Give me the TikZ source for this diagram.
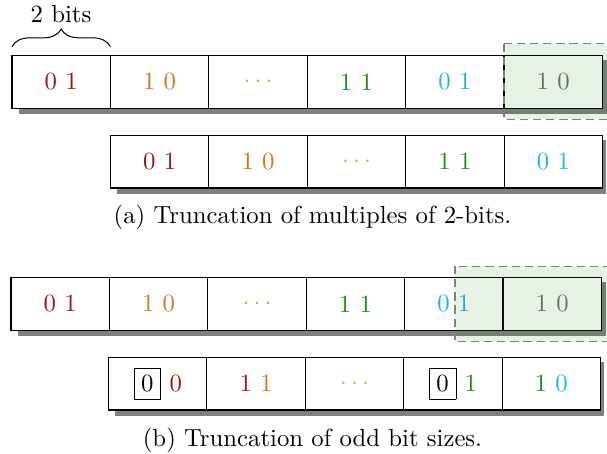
\documentclass[tikz,border=0pt]{standalone}
\usetikzlibrary{decorations.pathreplacing,backgrounds}
\definecolor{bitred}{RGB}{150,25,25}
\definecolor{bitorange}{RGB}{215,115,25}
\definecolor{bitolive}{RGB}{190,180,60}
\definecolor{bitgreen}{RGB}{30,140,30}
\definecolor{bitcyan}{RGB}{30,180,235}
\definecolor{bitgray}{RGB}{95,120,120}
\definecolor{cutgreen}{RGB}{0,130,0}
\begin{document}
\begin{tikzpicture}[x=0.4425pt,y=-0.4425pt,
  font=\fontsize{10.95}{13.6}\selectfont,
  cell/.style={draw, fill=white, line width=0.5pt, minimum width=43.54pt,
    minimum height=23.32pt, inner sep=0pt, outer sep=0pt},
  shadowbox/.style={fill=black!50},
  trunc/.style={draw=black!50, line width=0.5pt, dash pattern=on 3.6pt off 2.2pt,
    fill=cutgreen, fill opacity=0.1}]
\useasboundingbox (0,0) rectangle (607,453);
\clip (0,0) rectangle (607,453);

% (a) original word
\node[cell] (a1) at (61.2,82) {\color{bitred}0 1};
\node[cell] (a2) at (159.6,82) {\color{bitorange}1 0};
\node[cell] (a3) at (258,82) {\color{bitolive}$\cdots$};
\node[cell] (a4) at (356.4,82) {\color{bitgreen}1 1};
\node[cell] (a5) at (454.8,82) {\color{bitcyan}0 1};
\node[cell] (a6) at (553.2,82) {\color{bitgray}1 0};

% (a) truncated word
\node[cell] (c1) at (159.7,161.7) {\color{bitred}0 1};
\node[cell] (c2) at (258.1,161.7) {\color{bitorange}1 0};
\node[cell] (c3) at (356.5,161.7) {\color{bitolive}$\cdots$};
\node[cell] (c4) at (454.9,161.7) {\color{bitgreen}1 1};
\node[cell] (c5) at (553.3,161.7) {\color{bitcyan}0 1};

% (b) original word
\node[cell] (b1) at (60.2,303.8) {\color{bitred}0 1};
\node[cell] (b2) at (158.6,303.8) {\color{bitorange}1 0};
\node[cell] (b3) at (257,303.8) {\color{bitolive}$\cdots$};
\node[cell] (b4) at (355.4,303.8) {\color{bitgreen}1 1};
\node[cell] (b5) at (453.8,303.8) {\color{bitcyan}0 1};
\node[cell] (b6) at (552.2,303.8) {\color{bitgray}1 0};

% (b) truncated word
\node[cell] (d1) at (157.7,383.7) {\fbox{0} \textcolor{bitred}{0}};
\node[cell] (d2) at (256.1,383.7) {\textcolor{bitred}{1} \textcolor{bitorange}{1}};
\node[cell] (d3) at (354.5,383.7) {\color{bitolive}$\cdots$};
\node[cell] (d4) at (452.9,383.7) {\fbox{0} \textcolor{bitgreen}{1}};
\node[cell] (d5) at (551.3,383.7) {\textcolor{bitgreen}{1} \textcolor{bitcyan}{0}};

% drop shadows behind each word
\begin{pgfonlayer}{background}
  \fill[shadowbox] ([shift={(6.5,4.5)}]a1.north west) rectangle ([shift={(5,6)}]a6.south east);
  \fill[shadowbox] ([shift={(6.5,4.5)}]c1.north west) rectangle ([shift={(3.5,6)}]c5.south east);
  \fill[shadowbox] ([shift={(6.5,4.5)}]b1.north west) rectangle ([shift={(5,6)}]b6.south east);
  \fill[shadowbox] ([shift={(6.5,4.5)}]d1.north west) rectangle ([shift={(3.5,6)}]d5.south east);
\end{pgfonlayer}

% truncated regions
\draw[trunc] ([shift={(0,-12)}]a6.north west) rectangle ([shift={(20,11)}]a6.south east);
\draw[trunc] ([shift={(50.4,-11.3)}]b5.north west) rectangle ([shift={(20,11.7)}]b6.south east);

% brace over the first cell
\coordinate (bl) at ([shift={(0,-9)}]a1.north west);
\coordinate (br) at ([shift={(0,-9)}]a1.north east);
\draw[line width=0.45pt, decorate, decoration={brace, amplitude=7.8pt}] (bl) -- (br);
\node (bits) at (61,14.5) {2 bits};

% captions
\node (capa) at (312.5,217) {(a) Truncation of multiples of 2-bits.};
\node (capb) at (312.5,440) {(b) Truncation of odd bit sizes.};
\end{tikzpicture}
\end{document}
